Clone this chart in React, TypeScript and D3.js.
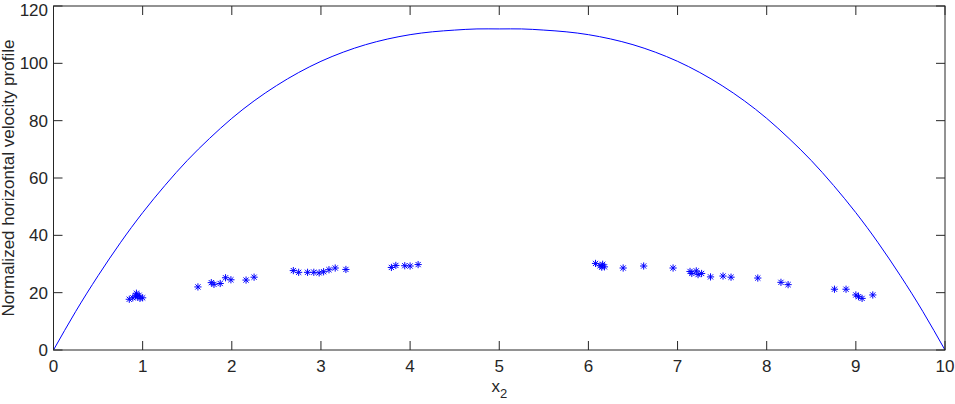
import React from "react";
import * as d3 from "d3";

const curveX = [0, 0.25, 0.5, 0.75, 1, 1.25, 1.5, 1.75, 2, 2.25, 2.5, 2.75, 3, 3.25, 3.5, 3.75, 4, 4.25, 4.5, 4.75, 5,
  5.25, 5.5, 5.75, 6, 6.25, 6.5, 6.75, 7, 7.25, 7.5, 7.75, 8, 8.25, 8.5, 8.75, 9, 9.25, 9.5, 9.75, 10];
const curveY = [0, 13.5, 25.9, 37.4, 47.9, 57.4, 66.1, 73.8, 80.8, 86.9, 92.2, 96.8, 100.7, 103.9, 106.5, 108.5, 110.0, 111.0, 111.6, 112.0, 112.0,
  112.0, 111.6, 111.0, 110.0, 108.5, 106.5, 103.9, 100.7, 96.8, 92.2, 86.9, 80.8, 73.8, 66.1, 57.4, 47.9, 37.4, 25.9, 13.5, 0];

const pointX = [0.85, 0.89, 0.93, 0.94, 0.92, 0.97, 0.96, 1.0, 1.62, 1.77, 1.80, 1.87, 1.93, 1.99, 2.16, 2.25,
  2.69, 2.75, 2.85, 2.92, 2.98, 3.03, 3.09, 3.16, 3.28, 3.79, 3.84, 3.94, 4.0, 4.09,
  6.08, 6.13, 6.16, 6.15, 6.18, 6.39, 6.62, 6.95, 7.14, 7.16, 7.21, 7.23, 7.27, 7.37, 7.51, 7.60, 7.90,
  8.16, 8.24, 8.76, 8.89, 9.0, 9.03, 9.07, 9.19];
const pointY = [17.7, 18.2, 19.8, 18.6, 18.9, 18.0, 19.1, 18.2, 22.0, 23.5, 22.9, 23.2, 25.2, 24.5, 24.4, 25.4,
  27.7, 27.1, 27.1, 27.1, 26.9, 27.3, 28.0, 28.6, 28.1, 28.8, 29.5, 29.4, 29.3, 29.8,
  30.2, 29.4, 29.9, 28.9, 29.0, 28.6, 29.3, 28.6, 27.4, 26.7, 27.6, 26.3, 26.7, 25.5, 25.8, 25.4, 25.1,
  23.6, 22.8, 21.2, 21.2, 19.2, 18.6, 18.0, 19.2];

const xTicks = [0, 1, 2, 3, 4, 5, 6, 7, 8, 9, 10];
const yTicks = [0, 20, 40, 60, 80, 100, 120];

const W = 955, H = 404;
const L = 53.5, R = 945, T = 6, B = 350;
const axisColor = "#262626";
const font = "'Liberation Sans', Arial, Helvetica, sans-serif";

export default function App() {
  const x = d3.scaleLinear().domain([0, 10]).range([L, R]);
  const y = d3.scaleLinear().domain([0, 120]).range([B, T]);
  const line = d3.line<number>().x((_, i) => x(curveX[i])).y((d) => y(d)).curve(d3.curveNatural);
  const tl = 9;
  const s = 3.6;
  const d2 = s * 0.72;
  const star = `M${-s},0H${s}M0,${-s}V${s}M${-d2},${-d2}L${d2},${d2}M${-d2},${d2}L${d2},${-d2}`;
  return (
    <svg width={W} height={H} style={{ position: "absolute", left: 0, top: 0, background: "#fff" }}>
      <path d={line(curveY) || ""} fill="none" stroke="#0000ff" strokeWidth={1} />
      {pointX.map((px, i) => (
        <path key={i} d={star} transform={`translate(${x(px)},${y(pointY[i])})`} stroke="#0000ff" strokeWidth={1} fill="none" />
      ))}
      <rect x={L} y={T} width={R - L} height={B - T} fill="none" stroke={axisColor} strokeWidth={1} />
      {xTicks.map((t) => (
        <g key={"x" + t}>
          <line x1={x(t)} x2={x(t)} y1={B} y2={B - tl} stroke={axisColor} />
          <line x1={x(t)} x2={x(t)} y1={T} y2={T + tl} stroke={axisColor} />
          <text x={x(t)} y={372} textAnchor="middle" fontFamily={font} fontSize={17} fill={axisColor}>{t}</text>
        </g>
      ))}
      {yTicks.map((t) => (
        <g key={"y" + t}>
          <line x1={L} x2={L + tl} y1={y(t)} y2={y(t)} stroke={axisColor} />
          <line x1={R} x2={R - tl} y1={y(t)} y2={y(t)} stroke={axisColor} />
          <text x={48} y={Math.max(y(t), 10)} dy="0.35em" textAnchor="end" fontFamily={font} fontSize={17} fill={axisColor}>{t}</text>
        </g>
      ))}
      <text x={(L + R) / 2} y={392} textAnchor="middle" fontFamily={font} fontSize={17} fill={axisColor}>
        x<tspan dy={6} fontSize={13}>2</tspan>
      </text>
      <text transform={`translate(14,${(T + B) / 2}) rotate(-90)`} textAnchor="middle" fontFamily={font} fontSize={17} fill={axisColor}>
        Normalized horizontal velocity profile
      </text>
    </svg>
  );
}
